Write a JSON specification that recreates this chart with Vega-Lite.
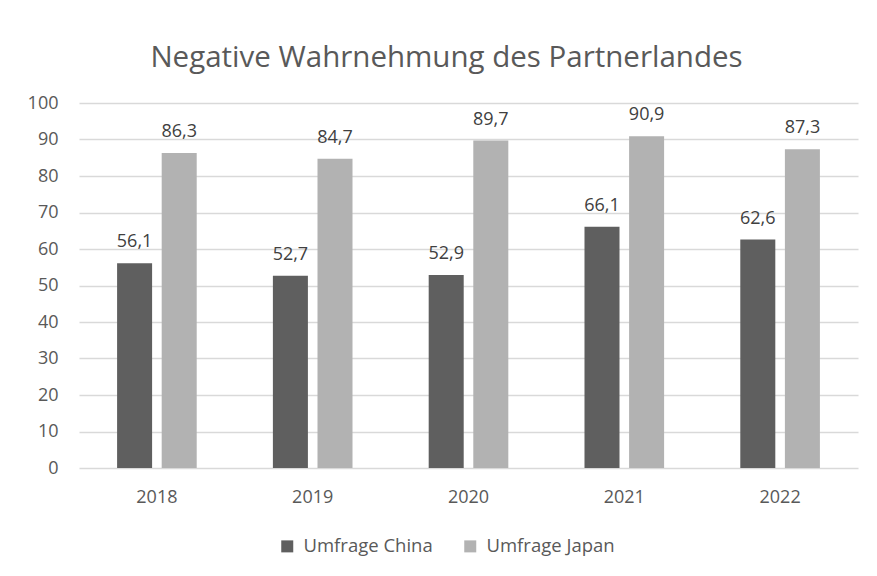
{
  "$schema": "https://vega.github.io/schema/vega-lite/v6.json",
  "width": 779,
  "height": 365,
  "autosize": {"type": "none"},
  "padding": {"left": 79, "top": 103, "right": 19, "bottom": 108},
  "background": "white",
  "config": {
    "view": {"stroke": null},
    "font": "Open Sans",
    "locale": {"number": {"decimal": ",", "thousands": ".", "grouping": [3], "currency": ["", " €"]}}
  },
  "title": {
    "text": "Negative Wahrnehmung des Partnerlandes",
    "font": "Open Sans",
    "fontSize": 29.5,
    "fontWeight": "normal",
    "color": "#595959",
    "anchor": "middle",
    "frame": "group",
    "dx": -22,
    "offset": 21
  },
  "data": {
    "values": [
      {"year": "2018", "series": "Umfrage China", "value": 56.1},
      {"year": "2018", "series": "Umfrage Japan", "value": 86.3},
      {"year": "2019", "series": "Umfrage China", "value": 52.7},
      {"year": "2019", "series": "Umfrage Japan", "value": 84.7},
      {"year": "2020", "series": "Umfrage China", "value": 52.9},
      {"year": "2020", "series": "Umfrage Japan", "value": 89.7},
      {"year": "2021", "series": "Umfrage China", "value": 66.1},
      {"year": "2021", "series": "Umfrage Japan", "value": 90.9},
      {"year": "2022", "series": "Umfrage China", "value": 62.6},
      {"year": "2022", "series": "Umfrage Japan", "value": 87.3}
    ]
  },
  "encoding": {
    "x": {
      "field": "year",
      "type": "ordinal",
      "scale": {"paddingInner": 0, "paddingOuter": 0},
      "axis": {
        "title": null,
        "labelAngle": 0,
        "domain": false,
        "ticks": false,
        "labelFontSize": 18,
        "labelColor": "#595959",
        "labelPadding": 20,
        "grid": false
      }
    },
    "xOffset": {
      "field": "series",
      "type": "nominal",
      "scale": {"paddingInner": 0.215, "paddingOuter": 0.854}
    },
    "y": {
      "field": "value",
      "type": "quantitative",
      "scale": {"domain": [0, 100], "nice": false},
      "axis": {
        "title": null,
        "values": [0, 10, 20, 30, 40, 50, 60, 70, 80, 90, 100],
        "domain": false,
        "ticks": false,
        "labelFontSize": 18,
        "labelColor": "#595959",
        "labelPadding": 21,
        "gridColor": "#d9d9d9",
        "gridWidth": 1.5
      }
    }
  },
  "layer": [
    {
      "mark": {"type": "bar"},
      "encoding": {
        "color": {
          "field": "series",
          "type": "nominal",
          "scale": {"domain": ["Umfrage China", "Umfrage Japan"], "range": ["#5f5f5f", "#b2b2b2"]},
          "legend": {
            "title": null,
            "orient": "none",
            "direction": "horizontal",
            "legendX": 199,
            "legendY": 434,
            "padding": 0,
            "symbolType": "square",
            "symbolSize": 144,
            "symbolStrokeWidth": 0,
            "symbolOpacity": 1,
            "labelFontSize": 18.5,
            "labelColor": "#595959",
            "labelOffset": 7,
            "columnPadding": 28
          }
        }
      }
    },
    {
      "mark": {"type": "text", "baseline": "alphabetic", "dy": -16, "fontSize": 18, "color": "#404040"},
      "encoding": {
        "text": {"field": "value", "type": "quantitative", "format": ".1f"}
      }
    }
  ]
}
